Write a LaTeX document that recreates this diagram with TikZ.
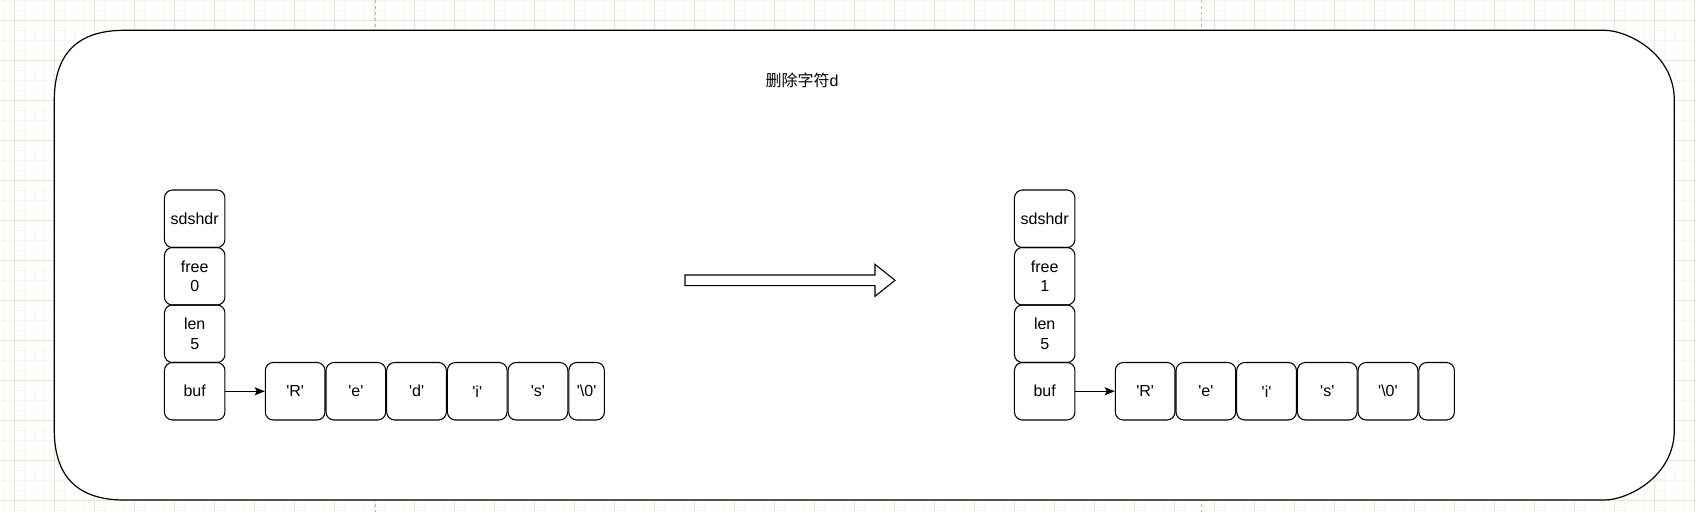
\documentclass[tikz,border=0pt]{standalone}
\usepackage{fontspec}
\setmainfont{Liberation Sans}
\newfontfamily\cjk{Noto Sans CJK SC}
\usetikzlibrary{arrows.meta}
\definecolor{gridmajor}{RGB}{231,229,217}
\definecolor{gridminor}{RGB}{247,247,242}
\definecolor{pageline}{RGB}{185,185,185}
\newcommand\myq{\textquotesingle}
\begin{document}
\begin{tikzpicture}[x=0.75pt,y=-0.75pt,
  txt/.style={font=\fontsize{12pt}{14.4pt}\selectfont},
  cell/.style={txt,draw=black,line width=0.8pt,rounded corners=6pt,inner sep=0pt,
    minimum width=45.375pt,minimum height=43.125pt,align=center},
  charbox/.style={cell,minimum width=44.775pt},
  tailbox/.style={cell,minimum width=26.7pt},
  link/.style={line width=0.8pt,-{Stealth[length=7.5pt,width=6pt,inset=1.5pt]}},
  outline/.style={draw=black,line width=0.9pt,fill=white}]
\useasboundingbox (0,0) rectangle (1696,512);
\fill[white] (0,0) rectangle (1696,512);
% grid
\foreach \x in {4.3,14.3,...,1700} \draw[gridminor,line width=0.75pt] (\x,0) -- (\x,512);
\foreach \y in {0.3,10.3,...,515} \draw[gridminor,line width=0.75pt] (0,\y) -- (1696,\y);
\foreach \x in {14.3,54.3,...,1700} \draw[gridmajor,line width=0.75pt] (\x,0) -- (\x,512);
\foreach \y in {20.3,60.3,...,515} \draw[gridmajor,line width=0.75pt] (0,\y) -- (1696,\y);
\draw[pageline,line width=0.75pt,dash pattern=on 2.25pt off 2.25pt] (375,0) -- (375,512);
\draw[pageline,line width=0.75pt,dash pattern=on 2.25pt off 2.25pt] (1201.5,0) -- (1201.5,512);
% outer container
\path[outline] (54.3,100.3) .. controls (54.3,53.63) and (77.63,30.3) .. (124.3,30.3)
  -- (1604.3,30.3) .. controls (1627.63,30.3) and (1674.3,53.63) .. (1674.3,100.3)
  -- (1674.3,430) .. controls (1674.3,476.67) and (1627.63,500) .. (1604.3,500)
  -- (124.3,500) .. controls (77.63,500) and (54.3,476.67) .. (54.3,430) -- cycle;
% title
\node[txt,inner sep=0pt] (title) at (802,80) {{\cjk 删除字符}d};
% block arrow
\path[outline,line width=0.8pt] (685,275) -- (875,275) -- (875,264.3) -- (895,280.3)
  -- (875,296.3) -- (875,285.6) -- (685,285.6) -- cycle;
% left structure
\node[cell] (lh) at (194.7,218.75) {sdshdr};
\node[cell] (lf) at (194.7,276.25) {free\\0};
\node[cell] (ll) at (194.7,333.75) {len\\5};
\node[cell] (lb) at (194.7,391.25) {buf};
\node[charbox] (lc1) at (295.15,391.25) {\myq R\myq};
\node[charbox] (lc2) at (355.85,391.25) {\myq e\myq};
\node[charbox] (lc3) at (416.55,391.25) {\myq d\myq};
\node[charbox] (lc4) at (477.25,391.25) {\myq i\myq};
\node[charbox] (lc5) at (537.95,391.25) {\myq s\myq};
\node[tailbox] (lc6) at (586.6,391.25) {\myq\textbackslash 0\myq};
\draw[link] (lb) -- (lc1);
% right structure
\node[cell] (rh) at (1044.7,218.75) {sdshdr};
\node[cell] (rf) at (1044.7,276.25) {free\\1};
\node[cell] (rl) at (1044.7,333.75) {len\\5};
\node[cell] (rb) at (1044.7,391.25) {buf};
\node[charbox] (rc1) at (1145.15,391.25) {\myq R\myq};
\node[charbox] (rc2) at (1205.85,391.25) {\myq e\myq};
\node[charbox] (rc3) at (1266.55,391.25) {\myq i\myq};
\node[charbox] (rc4) at (1327.25,391.25) {\myq s\myq};
\node[charbox] (rc5) at (1387.95,391.25) {\myq\textbackslash 0\myq};
\node[tailbox] (rc6) at (1436.6,391.25) {};
\draw[link] (rb) -- (rc1);
\end{tikzpicture}
\end{document}
